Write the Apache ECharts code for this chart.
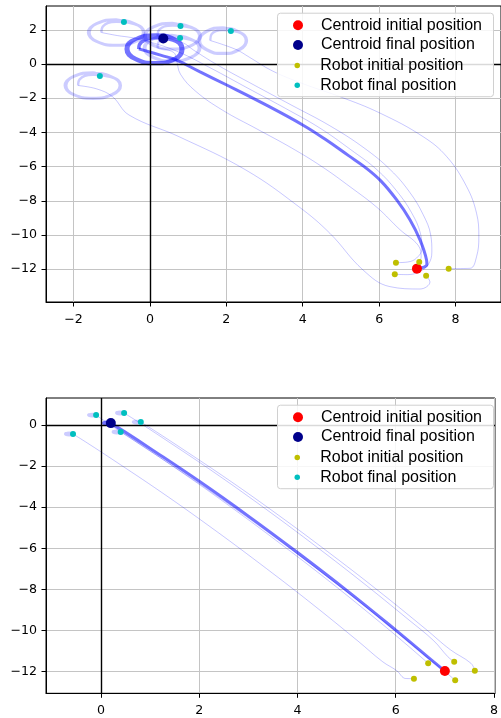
<!DOCTYPE html>
<html><head><meta charset="utf-8">
<script src="https://cdn.jsdelivr.net/npm/echarts@6/dist/echarts.min.js"></script>
<style>html,body{margin:0;padding:0;background:#fff}#c{width:501px;height:718px}</style>
</head><body><div id="c"></div>
<script>
// ---------- tick values ----------
const topXTicks = [-2, 0, 2, 4, 6, 8];
const topYTicks = [-12, -10, -8, -6, -4, -2, 0, 2];
const botXTicks = [0, 2, 4, 6, 8];
const botYTicks = [-12, -10, -8, -6, -4, -2, 0];

// ---------- legend labels ----------
const legendCentroid = ['Centroid initial position', 'Centroid final position'];
const legendRobot = ['Robot initial position', 'Robot final position'];

// ---------- top chart: markers ----------
const topCentroidInit = [[6.99, -11.97]];
const topCentroidFinal = [[0.35, 1.49]];
const topRobotInit = [[6.44, -11.62], [7.05, -11.58], [6.41, -12.30], [7.23, -12.38], [7.82, -11.97]];
const topRobotFinal = [[-0.68, 2.46], [0.80, 2.22], [0.79, 1.52], [2.12, 1.93], [-1.31, -0.70]];

// ---------- top chart: approach paths ----------
const topCentroidPath = [[6.99,-11.97],[7.15,-11.90],[7.25,-11.72],[7.24,-11.45],[7.07,-10.29],[6.81,-9.12],[6.46,-7.95],[6.05,-6.85],[5.62,-6.02],[5.20,-5.36],[4.60,-4.42],[4.01,-3.58],[3.00,-2.35],[2.01,-1.23],[1.30,-0.45],[0.70,0.23],[0.30,0.50],[-0.29,0.88]];
const topPath1 = [[6.44,-11.62],[6.75,-11.58],[6.98,-11.35],[7.12,-10.80],[7.08,-9.90],[6.85,-8.70],[6.45,-7.40],[5.95,-6.20],[5.25,-5.00],[4.45,-3.75],[3.55,-2.60],[2.55,-1.40],[1.60,-0.25],[0.70,0.75],[-0.10,1.35],[-0.50,1.55],[-0.85,1.66],[-1.27,1.84]];
const topPath2 = [[7.05,-11.58],[7.10,-11.30],[7.02,-10.60],[6.55,-9.70],[5.95,-8.40],[5.25,-7.20],[4.50,-6.00],[3.70,-4.90],[2.80,-3.80],[1.90,-2.70],[1.20,-1.60],[0.80,-0.60],[0.70,0.20],[0.62,0.68],[0.20,0.93]];
const topPath3 = [[6.41,-12.30],[6.75,-12.32],[7.05,-12.15],[7.28,-11.75],[7.38,-11.00],[7.35,-10.00],[7.15,-8.80],[6.80,-7.50],[6.30,-6.20],[5.60,-4.90],[4.70,-3.60],[3.70,-2.40],[2.70,-1.20],[1.80,-0.10],[1.15,0.80],[0.85,1.25],[0.20,1.63]];
const topPath4 = [[7.23,-12.38],[7.33,-12.75],[7.07,-13.16],[6.28,-13.02],[5.58,-12.05],[4.71,-9.90],[3.90,-8.35],[2.51,-6.20],[0.76,-4.25],[-0.55,-2.98],[-0.98,-1.91],[-1.39,-1.46],[-1.88,-1.26]];
const topPath5 = [[7.82,-11.97],[8.38,-11.95],[8.55,-11.27],[8.61,-10.10],[8.55,-8.73],[8.29,-7.17],[7.77,-5.42],[7.15,-4.25],[6.02,-2.87],[4.97,-1.91],[4.00,-1.15],[3.20,-0.40],[2.60,0.40],[2.25,0.85],[1.58,1.37]];

// ---------- top chart: final orbits ----------
const topCentroidLoop = [[-0.29,0.88],[-0.22,1.28],[0.14,1.53],[0.60,1.40],[0.82,0.88],[0.65,0.31],[0.14,0.07],[-0.37,0.31],[-0.58,0.88],[-0.37,1.45],[0.14,1.69],[0.65,1.45],[0.86,0.88],[0.67,0.28],[0.14,0.03],[-0.39,0.28],[-0.62,0.88],[-0.39,1.45],[0.14,1.62],[0.35,1.49]];
const topLoop1 = [[-1.27,1.84],[-1.23,2.20],[-0.88,2.46],[-0.41,2.33],[-0.18,1.84],[-0.39,1.32],[-0.88,1.11],[-1.38,1.32],[-1.58,1.84],[-1.38,2.36],[-0.88,2.57],[-0.39,2.36],[-0.15,1.84],[-0.36,1.30],[-0.88,1.07],[-1.40,1.30],[-1.62,1.84],[-1.40,2.38],[-0.88,2.61],[-0.68,2.46]];
const topLoop2 = [[0.20,0.93],[0.23,1.29],[0.58,1.55],[1.05,1.42],[1.28,0.93],[1.08,0.41],[0.58,0.20],[0.09,0.41],[-0.12,0.93],[0.09,1.45],[0.58,1.66],[1.08,1.45],[1.32,0.93],[1.10,0.39],[0.58,0.16],[0.06,0.39],[-0.16,0.93],[0.06,1.47],[0.58,1.70],[0.79,1.52]];
const topLoop3 = [[0.20,1.63],[0.24,1.99],[0.59,2.25],[1.06,2.12],[1.29,1.63],[1.09,1.11],[0.59,0.90],[0.10,1.11],[-0.11,1.63],[0.10,2.15],[0.59,2.36],[1.09,2.15],[1.33,1.63],[1.11,1.09],[0.59,0.86],[0.07,1.09],[-0.15,1.63],[0.07,2.17],[0.59,2.40],[0.80,2.22]];
const topLoop4 = [[-1.88,-1.26],[-1.84,-0.90],[-1.49,-0.64],[-1.02,-0.77],[-0.79,-1.26],[-1.00,-1.78],[-1.49,-1.99],[-1.99,-1.78],[-2.19,-1.26],[-1.99,-0.74],[-1.49,-0.53],[-1.00,-0.74],[-0.76,-1.26],[-0.97,-1.80],[-1.49,-2.03],[-2.01,-1.80],[-2.23,-1.26],[-2.01,-0.72],[-1.49,-0.49],[-1.31,-0.70]];
const topLoop5 = [[1.58,1.37],[1.61,1.73],[1.91,1.99],[2.31,1.86],[2.51,1.37],[2.33,0.85],[1.91,0.64],[1.49,0.85],[1.31,1.37],[1.49,1.89],[1.91,2.10],[2.33,1.89],[2.54,1.37],[2.36,0.83],[1.91,0.60],[1.46,0.83],[1.28,1.37],[1.46,1.91],[1.91,2.14],[2.12,1.93]];

// ---------- bottom chart: markers ----------
const botCentroidInit = [[7.00, -11.97]];
const botCentroidFinal = [[0.20, 0.08]];
const botRobotInit = [[6.66, -11.59], [7.19, -11.52], [7.61, -11.95], [7.21, -12.42], [6.37, -12.34]];
const botRobotFinal = [[-0.10, 0.47], [0.47, 0.57], [0.81, 0.13], [0.40, -0.35], [-0.57, -0.45]];

// ---------- bottom chart: approach paths ----------
const botCentroidPath = [[7.00,-11.97],[6.50,-10.98],[6.00,-9.98],[5.00,-8.05],[4.00,-6.21],[3.00,-4.44],[2.00,-2.75],[1.00,-1.15],[0.50,-0.37],[0.20,0.08]];
const botPath1 = [[6.66,-11.59],[6.18,-10.60],[5.68,-9.60],[4.68,-7.67],[3.68,-5.83],[2.68,-4.06],[1.68,-2.37],[0.68,-0.77],[0.18,0.01],[-0.10,0.47]];
const botPath2 = [[7.19,-11.52],[7.06,-11.27],[6.77,-10.49],[6.27,-9.49],[5.27,-7.56],[4.27,-5.72],[3.27,-3.95],[2.27,-2.26],[1.27,-0.66],[0.77,0.12],[0.47,0.57]];
const botPath3 = [[7.61,-11.95],[7.53,-11.59],[7.11,-10.93],[6.61,-9.93],[5.61,-8.00],[4.61,-6.16],[3.61,-4.39],[2.61,-2.70],[1.61,-1.10],[1.11,-0.32],[0.81,0.13]];
const botPath4 = [[7.21,-12.42],[6.98,-11.95],[6.70,-11.42],[6.20,-10.42],[5.20,-8.49],[4.20,-6.65],[3.20,-4.88],[2.20,-3.19],[1.20,-1.59],[0.70,-0.81],[0.40,-0.35]];
const botPath5 = [[6.37,-12.34],[6.20,-12.33],[6.02,-11.95],[5.73,-11.51],[5.23,-10.51],[4.23,-8.58],[3.23,-6.74],[2.23,-4.97],[1.23,-3.28],[0.23,-1.68],[-0.27,-0.90],[-0.57,-0.45]];

// ---------- bottom chart: final orbits ----------
const botCentroidLoop = [[0.20,0.08],[0.12,0.13],[0.05,0.08],[0.12,0.03],[0.20,0.08],[0.12,0.13],[0.05,0.08]];
const botLoop1 = [[-0.10,0.47],[-0.18,0.53],[-0.26,0.47],[-0.18,0.41],[-0.10,0.47],[-0.18,0.53],[-0.26,0.47]];
const botLoop2 = [[0.47,0.57],[0.39,0.63],[0.31,0.57],[0.39,0.51],[0.47,0.57],[0.39,0.63],[0.31,0.57]];
const botLoop3 = [[0.81,0.13],[0.73,0.19],[0.65,0.13],[0.73,0.07],[0.81,0.13],[0.73,0.19],[0.65,0.13]];
const botLoop4 = [[0.40,-0.35],[0.32,-0.29],[0.24,-0.35],[0.32,-0.41],[0.40,-0.35],[0.32,-0.29],[0.24,-0.35]];
const botLoop5 = [[-0.57,-0.45],[-0.65,-0.39],[-0.73,-0.45],[-0.65,-0.51],[-0.57,-0.45],[-0.65,-0.39],[-0.73,-0.45]];

// ---------- build ----------
const TICK_FONT = 'DejaVu Sans';
const fmt = v => (Math.abs(v - Math.round(v)) > 1e-6) ? '' : String(Math.round(v)).replace('-', '\u2212');

function axisCfg(gi, min, max, ticks, split, margin) {
  return {
    type: 'value', gridIndex: gi, min: min, max: max, splitNumber: split,
    axisLine: { show: true, onZero: false, lineStyle: { color: '#000', width: 1 } },
    axisTick: { show: true, length: 4.5, customValues: ticks, lineStyle: { color: '#000', width: 1 } },
    axisLabel: { customValues: ticks, formatter: fmt, margin: margin, fontFamily: TICK_FONT, fontSize: 12.6, color: '#000' },
    splitLine: { show: true, lineStyle: { color: '#c4c4c4', width: 1 } }
  };
}

const thinStyle = { color: 'rgba(0,0,255,0.22)', width: 1 };
const orbitStyle = { color: 'rgba(0,0,255,0.2)', width: 2.4 };
const thickStyle = { color: 'rgba(0,0,255,0.55)', width: 3 };
const thickOrbitStyle = { color: 'rgba(0,0,255,0.55)', width: 3.6 };

function pathSeries(name, data, gi, style, z, smooth) {
  return {
    type: 'line', name: name, xAxisIndex: gi, yAxisIndex: gi, data: data,
    showSymbol: false, symbol: 'none', smooth: smooth, lineStyle: style, z: z,
    silent: true, clip: true
  };
}
function zeroLines(s) {
  s.markLine = {
    silent: true, symbol: 'none', animation: false,
    label: { show: false },
    lineStyle: { color: '#000', width: 1.4, type: 'solid' },
    emphasis: { disabled: true },
    data: [{ xAxis: 0 }, { yAxis: 0 }]
  };
  return s;
}
function markerSeries(name, data, gi, color, size) {
  return {
    type: 'scatter', name: name, xAxisIndex: gi, yAxisIndex: gi, data: data,
    symbol: 'circle', symbolSize: size, itemStyle: { color: color, opacity: 1 }, z: 5, silent: true
  };
}

function chartSeries(gi, paths, loops, cPath, cLoop, cInit, cFinal, rInit, rFinal) {
  const s = [];
  paths.forEach((p, i) => {
    const ser = pathSeries('path' + gi + '_' + i, p, gi, thinStyle, 2, 0.4);
    if (i === 0) zeroLines(ser);
    s.push(ser);
  });
  loops.forEach((p, i) => s.push(pathSeries('orbit' + gi + '_' + i, p, gi, orbitStyle, 2, 0.5)));
  s.push(pathSeries('centroid' + gi, cPath, gi, thickStyle, 3, 0.4));
  s.push(pathSeries('centroidOrbit' + gi, cLoop, gi, gi === 0 ? thickOrbitStyle : thickStyle, 3, 0.5));
  s.push(markerSeries(legendCentroid[0], cInit, gi, '#ff0000', 10));
  s.push(markerSeries(legendCentroid[1], cFinal, gi, '#00008b', 10));
  s.push(markerSeries(legendRobot[0], rInit, gi, '#bfbf00', 6));
  s.push(markerSeries(legendRobot[1], rFinal, gi, '#00bfbf', 6));
  return s;
}

function legendCfg(names, left, top, size) {
  return {
    data: names, orient: 'vertical', left: left, top: top, padding: 0,
    itemWidth: 36, itemHeight: size, itemGap: 1.7, icon: 'circle', selectedMode: false,
    textStyle: { fontFamily: 'Liberation Sans', fontSize: 16, lineHeight: 18, color: '#000' },
    z: 10
  };
}

const series = [].concat(
  chartSeries(0, [topPath1, topPath2, topPath3, topPath4, topPath5], [topLoop1, topLoop2, topLoop3, topLoop4, topLoop5],
    topCentroidPath, topCentroidLoop, topCentroidInit, topCentroidFinal, topRobotInit, topRobotFinal),
  chartSeries(1, [botPath1, botPath2, botPath3, botPath4, botPath5], [botLoop1, botLoop2, botLoop3, botLoop4, botLoop5],
    botCentroidPath, botCentroidLoop, botCentroidInit, botCentroidFinal, botRobotInit, botRobotFinal)
);

const option = {
  animation: false,
  backgroundColor: '#ffffff',
  grid: [
    { left: 46, top: 6, width: 455, height: 296, show: true, borderColor: '#000', borderWidth: 1, backgroundColor: 'transparent' },
    { left: 46, top: 398, width: 455, height: 295.3, show: true, borderColor: '#000', borderWidth: 1, backgroundColor: 'transparent' }
  ],
  xAxis: [axisCfg(0, -2.72, 9.19, topXTicks, 6, 11), axisCfg(1, -1.12, 8.02, botXTicks, 5, 11)],
  yAxis: [axisCfg(0, -13.92, 3.39, topYTicks, 8, 9), axisCfg(1, -13.05, 1.30, botYTicks, 7, 9)],
  legend: [
    legendCfg(legendCentroid, 293, 16.3, 10),
    legendCfg(legendRobot, 294.5, 56.5, 5.5),
    legendCfg(legendCentroid, 293, 408.3, 10),
    legendCfg(legendRobot, 294.5, 448.5, 5.5)
  ],
  graphic: { elements: [
    { type: 'rect', z: 8, shape: { x: 277.5, y: 13.2, width: 216, height: 83.5, r: 3 }, style: { fill: 'rgba(255,255,255,0.85)', stroke: '#d0d0d0', lineWidth: 1 }, silent: true },
    { type: 'rect', z: 8, shape: { x: 277.5, y: 405.2, width: 216, height: 83.5, r: 3 }, style: { fill: 'rgba(255,255,255,0.85)', stroke: '#d0d0d0', lineWidth: 1 }, silent: true }
  ] },
  series: series
};

const chart = echarts.init(document.getElementById('c'), null, { renderer: 'canvas' });
chart.setOption(option);
</script>
</body></html>
